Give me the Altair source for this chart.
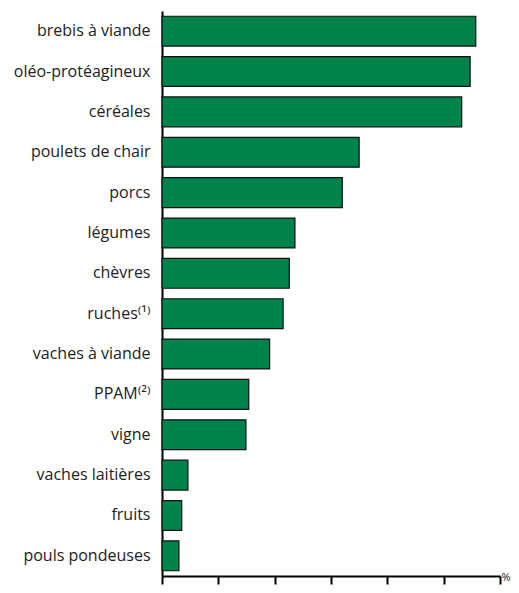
import altair as alt
import pandas as pd

categories = ["brebis à viande", "oléo-protéagineux", "céréales", "poulets de chair",
              "porcs", "légumes", "chèvres", "ruches⁽¹⁾", "vaches à viande", "PPAM⁽²⁾",
              "vigne", "vaches laitières", "fruits", "pouls pondeuses"]
values = [55.7, 54.7, 53.2, 35.0, 32.0, 23.6, 22.6, 21.5, 19.1, 15.4, 14.9, 4.6, 3.5, 3.0]
tick_values = [0, 10, 20, 30, 40, 50, 60]

df = pd.DataFrame({"cat": categories, "val": values})

chart = alt.Chart(df).mark_bar(
    color="#00834A", stroke="#111111", strokeWidth=1.2
).encode(
    x=alt.X("val:Q", scale=alt.Scale(domain=[0, 60], nice=False, zero=True),
            axis=alt.Axis(title="%", labels=False, grid=False,
                          values=tick_values, labelOverlap=False,
                          domainColor="#000", domainWidth=2, tickColor="#000",
                          tickWidth=2, tickSize=8, titleAngle=0, titleAlign="left",
                          titleBaseline="middle", titleX=339, titleY=1,
                          titleFont="Open Sans", titleFontSize=11, titleFontWeight="normal",
                          titleColor="#222")),
    y=alt.Y("cat:N", sort=categories,
            scale=alt.Scale(paddingInner=0.26, paddingOuter=0.13),
            axis=alt.Axis(title=None, ticks=False, domainColor="#000", domainWidth=2,
                          labelFont="Open Sans", labelFontSize=16, labelColor="#222",
                          labelPadding=12, labelLimit=200))
).properties(
    width=338, height=565,
    autosize=alt.AutoSizeParams(type="none"),
    padding={"left": 154, "top": 3, "right": 11, "bottom": 9}
).configure_view(stroke=None)

chart.save("out.html", embed_options={"renderer": "svg", "actions": False})
